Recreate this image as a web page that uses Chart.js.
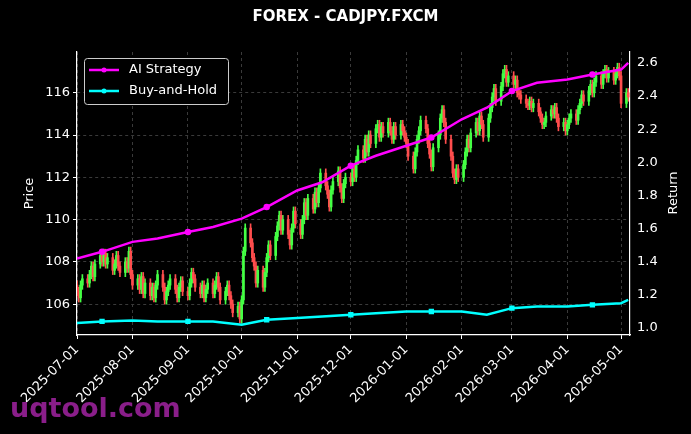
<!DOCTYPE html>
<html><head><meta charset="utf-8">
<script src="https://cdn.jsdelivr.net/npm/chart.js@4"></script>
<style>html,body{margin:0;padding:0;background:#000;}#wrap{position:relative;width:691px;height:434px;}
#wm{position:absolute;left:10px;top:392px;font:bold 27px "DejaVu Sans",sans-serif;color:#8a1e8a;}</style>
</head><body><div id="wrap"><canvas id="c" width="691" height="434"></canvas><div id="wm">uqtool.com</div></div>
<script>
const closeJul=[106.6,106.3,106.9,107.2,107.0,107.4,107.8,107.3,107.9,108.3,108.0,108.4,107.9,108.2,107.6,107.9,108.3,107.8,107.5,108.0,107.7,108.5,107.4];
const closeAug=[106.9,107.2,106.7,107.3,106.5,107.0,106.4,106.8,106.3,106.9,107.4,106.8,106.2,106.6,106.9,107.2,106.7,106.3,106.8,107.1,106.6];
const closeSep=[106.4,107.0,107.5,107.2,106.8,106.5,106.9,106.3,106.7,107.0,106.5,106.9,107.3,106.8,106.2,106.6,106.9,106.4,106.0,105.6,105.9,105.3];
const closeOct=[106.2,108.5,109.6,108.9,108.2,107.8,107.0,107.6,106.8,107.5,108.2,108.8,108.3,109.2,109.7,110.2,109.5,110.0,109.3,108.8,109.6,110.4,109.8];
const closeNov=[109.3,110.0,110.8,110.2,111.0,110.5,111.3,110.8,111.5,112.2,111.6,111.2,110.6,111.4,111.8,112.3,111.5,111.0,111.7,112.0];
const closeDec=[111.8,112.4,112.0,112.8,113.3,112.9,113.8,113.2,114.0,113.6,114.3,114.5,113.9,114.4,114.1,114.6,114.2,113.8,114.4,114.0,114.5,114.2,113.9];
const closeJan=[113.6,113.0,112.4,113.2,113.8,114.2,114.7,114.3,113.6,113.1,112.5,113.4,114.0,114.8,115.2,114.6,113.8,113.0,112.2,111.9,112.4,112.0];
const closeFeb=[112.6,113.2,113.8,113.4,114.1,114.6,114.2,114.9,114.5,113.9,114.8,115.3,115.8,116.2,115.6,116.3,116.9,117.1,116.5,116.8];
const closeMar=[116.4,116.6,116.0,115.9,115.7,115.5,115.4,115.6,115.3,115.5,115.1,114.8,114.5,114.6,114.9,115.2,115.0,115.3,114.8,114.4,114.6,114.2];
const closeApr=[114.5,114.8,115.0,114.7,115.2,115.5,115.9,115.6,116.1,116.4,116.0,116.5,116.8,116.4,116.9,117.1,116.7,117.0,116.6,116.9,117.2,116.8];
const closeMay=[115.5,116.0,115.8];
const firstOpen=106.9;
const wick=0.2;
const retDates=['2025-07-01','2025-07-15','2025-08-01','2025-08-15','2025-09-01','2025-09-15','2025-10-01','2025-10-15','2025-11-01','2025-11-15','2025-12-01','2025-12-15','2026-01-01','2026-01-15','2026-02-01','2026-02-15','2026-03-01','2026-03-15','2026-04-01','2026-04-15','2026-05-01','2026-05-05'];
const aiReturn=[1.42,1.46,1.52,1.54,1.58,1.61,1.66,1.73,1.83,1.88,1.98,2.04,2.10,2.15,2.26,2.33,2.43,2.48,2.50,2.53,2.56,2.60];
const bhReturn=[1.03,1.04,1.045,1.04,1.04,1.04,1.02,1.05,1.06,1.07,1.08,1.09,1.10,1.10,1.10,1.08,1.12,1.13,1.13,1.14,1.15,1.17];
const tickLabels=['2025-07-01','2025-08-01','2025-09-01','2025-10-01','2025-11-01','2025-12-01','2026-01-01','2026-02-01','2026-03-01','2026-04-01','2026-05-01'];

const T=s=>Date.parse(s+'T00:00:00Z');
const months=[[2025,6,closeJul],[2025,7,closeAug],[2025,8,closeSep],[2025,9,closeOct],[2025,10,closeNov],[2025,11,closeDec],[2026,0,closeJan],[2026,1,closeFeb],[2026,2,closeMar],[2026,3,closeApr],[2026,4,closeMay]];
const candles=[];let prev=firstOpen;
months.forEach(([y,m,arr])=>{let i=0;for(let d=1;d<=31&&i<arr.length;d++){const dt=new Date(Date.UTC(y,m,d));if(dt.getUTCMonth()!==m)break;const w=dt.getUTCDay();if(w===0||w===6)continue;const c=arr[i++];candles.push({x:dt.getTime(),o:prev,c:c});prev=c;}});
const up='#44ff44',dn='#ff4d4d';
const bodies=candles.map(k=>({x:k.x,y:[k.o,k.c]}));
const wicks=candles.map(k=>({x:k.x,y:[Math.min(k.o,k.c)-wick,Math.max(k.o,k.c)+wick]}));
const cols=candles.map(k=>k.c>=k.o?up:dn);
const ai=retDates.map((d,i)=>({x:T(d),y:aiReturn[i]}));
const bh=retDates.map((d,i)=>({x:T(d),y:bhReturn[i]}));
const mk=retDates.map((d,i)=>i%3===1?2:0);
const legendPlugin={id:'lg',afterDraw(ch){const g=ch.ctx;g.save();g.fillStyle='#000';g.strokeStyle='#ccc';g.lineWidth=1;
g.beginPath();g.roundRect(84.5,58.5,144,46,3);g.fill();g.stroke();
[['AI Strategy','#ff00ff',70],['Buy-and-Hold','#00ffff',91]].forEach(([t,c,y])=>{g.strokeStyle=c;g.lineWidth=2.5;g.beginPath();g.moveTo(89,y);g.lineTo(119,y);g.stroke();g.fillStyle=c;g.beginPath();g.arc(104,y,2.5,0,7);g.fill();
g.fillStyle='#fff';g.font='13px "DejaVu Sans"';g.textBaseline='middle';g.fillText(t,129,y);});
g.translate(674,193);g.rotate(-Math.PI/2);g.textAlign='center';g.fillText('Return',0,0);
g.restore();}};
const fnt={family:'DejaVu Sans',size:13};
const gridC='#3a3a3a';
new Chart(document.getElementById('c'),{
data:{datasets:[
{type:'line',data:ai,yAxisID:'y2',borderColor:'#ff00ff',backgroundColor:'#ff00ff',borderWidth:2.5,pointRadius:mk,tension:0,order:0},
{type:'line',data:bh,yAxisID:'y2',borderColor:'#00ffff',backgroundColor:'#00ffff',borderWidth:2.5,pointRadius:mk,pointStyle:'rect',tension:0,order:0},
{type:'bar',data:wicks,yAxisID:'y',backgroundColor:cols,barThickness:1,grouped:false,order:2},
{type:'bar',data:bodies,yAxisID:'y',backgroundColor:cols,barThickness:2,grouped:false,order:1}
]},
options:{responsive:false,animation:false,
layout:{padding:{top:0,right:0,left:0,bottom:0}},
plugins:{legend:{display:false},tooltip:{enabled:false},
title:{display:true,text:'FOREX - CADJPY.FXCM',color:'#fff',font:{family:'DejaVu Sans',size:15,weight:'bold'},padding:{top:8,bottom:26}}},
scales:{
x:{type:'linear',offset:false,min:T('2025-07-01'),max:T('2026-05-06'),
afterBuildTicks(a){a.ticks=tickLabels.map(s=>({value:T(s)}));},
afterFit(a){a.height=99;},
ticks:{color:'#fff',font:fnt,maxRotation:45,minRotation:45,autoSkip:false,callback:(v)=>new Date(v).toISOString().slice(0,10)},
grid:{offset:false,color:gridC,tickColor:'#fff',tickLength:4},border:{color:'#fff',width:1.2,dash:[3,3]}},
y:{position:'left',min:104.54,max:117.93,afterFit(a){a.width=77;},
afterBuildTicks(a){a.ticks=[106,108,110,112,114,116].map(v=>({value:v}));},
title:{display:true,text:'Price',color:'#fff',font:fnt,padding:{top:22,bottom:6}},
ticks:{color:'#fff',font:fnt},grid:{color:gridC,tickColor:'#fff',tickLength:4},border:{color:'#fff',width:1.2,dash:[3,3]}},
y2:{position:'right',min:0.958,max:2.666,afterFit(a){a.width=61;},
afterBuildTicks(a){a.ticks=[1.0,1.2,1.4,1.6,1.8,2.0,2.2,2.4,2.6].map(v=>({value:v}));},
ticks:{color:'#fff',font:fnt,callback:v=>v.toFixed(1)},grid:{display:false,tickColor:'#fff',tickLength:4},border:{color:'#fff',width:1.2}}
}},
plugins:[legendPlugin,{id:'bg',beforeDraw(ch){const g=ch.ctx;g.save();g.fillStyle='#000';g.fillRect(0,0,ch.width,ch.height);g.restore();}}]
});
</script></body></html>
